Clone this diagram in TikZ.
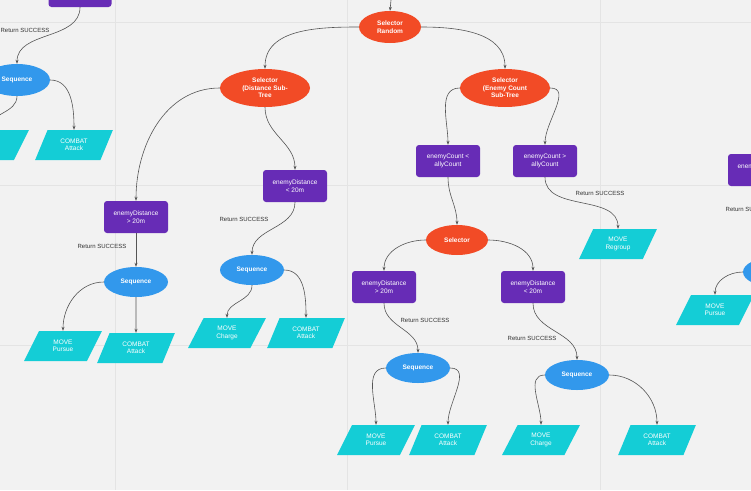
\documentclass[tikz,border=0pt]{standalone}
\usepackage{fontspec}
\setmainfont{Liberation Sans}
\usetikzlibrary{shapes.geometric,arrows.meta}
\definecolor{bg}{HTML}{F2F2F2}
\definecolor{gridc}{HTML}{E4E4E4}
\definecolor{sel}{HTML}{F24B26}
\definecolor{cond}{HTML}{672CB6}
\definecolor{seqc}{HTML}{3298EC}
\definecolor{act}{HTML}{14CDD6}
\definecolor{edge}{HTML}{555555}
\begin{document}
\begin{tikzpicture}[x=1pt,y=-1pt,font=\fontsize{6.5}{7.5}\selectfont,
  selector/.style={ellipse,fill=sel,text=white,font=\fontsize{6.5}{7.5}\selectfont\bfseries,align=center,inner sep=0pt},
  cond/.style={rectangle,rounded corners=3pt,fill=cond,text=white,align=center,minimum width=64pt,minimum height=32pt,inner sep=1pt},
  seq/.style={ellipse,fill=seqc,text=white,font=\fontsize{6.5}{7.5}\selectfont\bfseries,minimum width=64pt,minimum height=30pt,inner sep=0pt},
  act/.style={trapezium,trapezium left angle=62,trapezium right angle=118,trapezium stretches=true,fill=act,text=white,align=center,minimum width=78pt,minimum height=30pt,inner sep=0pt},
  lbl/.style={text=black!80,font=\fontsize{6}{7}\selectfont},
  e/.style={draw=edge,line width=0.6pt,-{Stealth[length=4pt,width=3pt]}}]
\useasboundingbox (0,0) rectangle (751,490);
\clip (0,0) rectangle (751,490);
\fill[bg] (0,0) rectangle (751,490);
\foreach \x in {115,347,600} \draw[gridc,line width=0.6pt] (\x,0) -- (\x,490);
\foreach \y in {22,185,345} \draw[gridc,line width=0.6pt] (0,\y) -- (751,\y);

% top-left partial
\node[cond,minimum width=63pt,minimum height=28pt] (c0) at (80,-7) {};
\node[seq,minimum width=66pt,minimum height=32pt] (s0) at (17,80) {Sequence};
\node[act] (a0a) at (-10,145) {MOVE\\Pursue};
\node[act] (a0b) at (74,145) {COMBAT\\Attack};
\node[lbl] at (25,30) {Return SUCCESS};

% root
\coordinate (top) at (391,0);
\node[selector,minimum width=62pt,minimum height=32pt] (root) at (390,27) {Selector\\Random};

\node[selector,minimum width=90pt,minimum height=38pt] (sd) at (265,88) {Selector\\(Distance Sub-\\Tree};
\node[selector,minimum width=90pt,minimum height=38pt] (se) at (505,88) {Selector\\(Enemy Count\\Sub-Tree};

\node[cond] (d1) at (136,217) {enemyDistance\\> 20m};
\node[cond] (d2) at (295,186) {enemyDistance\\< 20m};
\node[cond] (ec1) at (448,161) {enemyCount <\\allyCount};
\node[cond] (ec2) at (545,161) {enemyCount >\\allyCount};

\node[seq] (s1) at (136,282) {Sequence};
\node[act] (a1a) at (63,346) {MOVE\\Pursue};
\node[act] (a1b) at (136,348) {COMBAT\\Attack};
\node[seq] (s2) at (252,270) {Sequence};
\node[act] (a2a) at (227,333) {MOVE\\Charge};
\node[act] (a2b) at (306,333) {COMBAT\\Attack};

\node[selector,minimum width=62pt,minimum height=30pt] (sm) at (457,240) {Selector};
\node[cond] (d3) at (384,287) {enemyDistance\\> 20m};
\node[cond] (d4) at (533,287) {enemyDistance\\< 20m};
\node[act] (rg) at (618,244) {MOVE\\Regroup};

\node[seq] (s3) at (418,368) {Sequence};
\node[act] (a3a) at (376,440) {MOVE\\Pursue};
\node[act] (a3b) at (448,440) {COMBAT\\Attack};
\node[seq] (s4) at (577,375) {Sequence};
\node[act] (a4a) at (541,440) {MOVE\\Charge};
\node[act] (a4b) at (657,440) {COMBAT\\Attack};

% right partial
\node[cond] (c5) at (760,170) {enemyDistance\\> 20m};
\node[seq] (s5) at (775,272) {Sequence};
\node[act] (a5a) at (715,310) {MOVE\\Pursue};
\node[act] (a5b) at (790,310) {COMBAT\\Attack};

\node[lbl] at (102,246) {Return SUCCESS};
\node[lbl] at (244,219) {Return SUCCESS};
\node[lbl] at (600,193) {Return SUCCESS};
\node[lbl] at (750,209) {Return SUCCESS};
\node[lbl] at (425,320) {Return SUCCESS};
\node[lbl] at (532,338) {Return SUCCESS};

% edges
\draw[e] (c0.south) to[out=-90,in=90] (s0.north);
\draw[e] (s0.south) to[out=-90,in=90] (a0a.north);
\draw[e] (s0.east) to[out=0,in=90] (a0b.north);
\draw[e] (top) -- (root.north);
\draw[e] (root.west) to[out=180,in=90] (sd.north);
\draw[e] (root.east) to[out=0,in=90] (se.north);
\draw[e] (sd.west) to[out=180,in=90] (d1.north);
\draw[e] (sd.south) to[out=-90,in=90] (d2.north);
\draw[e] (se.west) to[out=180,in=90] (ec1.north);
\draw[e] (se.east) to[out=0,in=90] (ec2.north);
\draw[e] (d1.south) -- (s1.north);
\draw[e] (s1.west) to[out=180,in=90] (a1a.north);
\draw[e] (s1.south) to[out=-90,in=90] (a1b.north);
\draw[e] (d2.south) to[out=-90,in=90] (s2.north);
\draw[e] (s2.south) to[out=-90,in=90] (a2a.north);
\draw[e] (s2.east) to[out=0,in=90] (a2b.north);
\draw[e] (ec1.south) to[out=-90,in=90] (sm.north);
\draw[e] (ec2.south) to[out=-90,in=90] (rg.north);
\draw[e] (sm.west) to[out=180,in=90] (d3.north);
\draw[e] (sm.east) to[out=0,in=90] (d4.north);
\draw[e] (d3.south) to[out=-90,in=90] (s3.north);
\draw[e] (d4.south) to[out=-90,in=90] (s4.north);
\draw[e] (s3.west) to[out=180,in=90] (a3a.north);
\draw[e] (s3.east) to[out=0,in=90] (a3b.north);
\draw[e] (s4.west) to[out=180,in=90] (a4a.north);
\draw[e] (s4.east) to[out=0,in=90] (a4b.north);
\draw[e] (c5.south) to[out=-90,in=90] (s5.north);
\draw[e] (s5.west) to[out=180,in=90] (a5a.north);
\end{tikzpicture}
\end{document}
